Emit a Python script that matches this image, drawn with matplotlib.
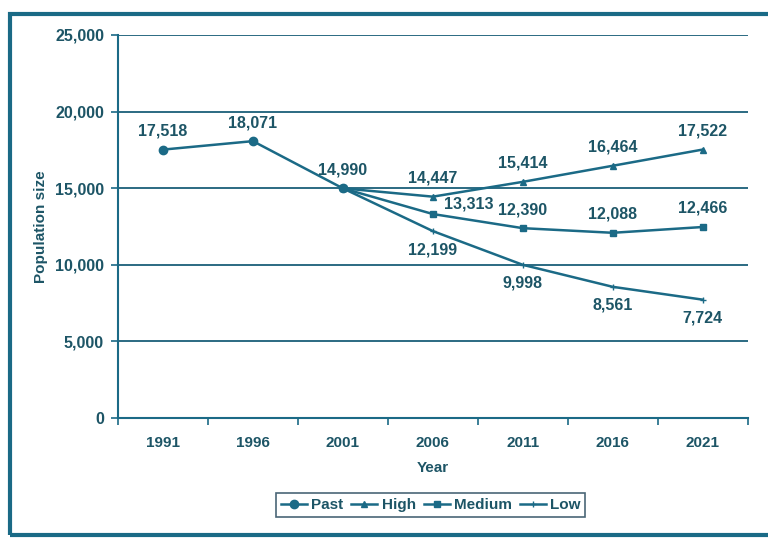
import matplotlib.pyplot as plt
from matplotlib.patches import Rectangle
from matplotlib.ticker import FuncFormatter

plt.rcParams['font.family'] = ['Liberation Sans', 'DejaVu Sans']
plt.rcParams['font.weight'] = 'bold'

years = ['1991', '1996', '2001', '2006', '2011', '2016', '2021']
past = [17518, 18071, 14990]
high = [14990, 14447, 15414, 16464, 17522]
medium = [14990, 13313, 12390, 12088, 12466]
low = [14990, 12199, 9998, 8561, 7724]

line_color = '#1b6a86'
text_color = '#1d5566'

fig = plt.figure(figsize=(7.68, 5.39), dpi=100)
ax = fig.add_axes([0.1536, 0.2245, 0.820, 0.7106])

x_past = list(range(len(past)))
x_proj = list(range(2, 2 + len(high)))

ax.plot(x_past, past, color=line_color, lw=1.8, marker='o', ms=6, label='Past')
ax.plot(x_proj, high, color=line_color, lw=1.8, marker='^', ms=4, label='High')
ax.plot(x_proj, medium, color=line_color, lw=1.8, marker='s', ms=4, label='Medium')
ax.plot(x_proj, low, color=line_color, lw=1.8, marker='+', ms=5, label='Low')

lbl = dict(ha='center', fontsize=11.5, fontweight='bold', color=text_color)
for i, v in enumerate(past):
    ax.annotate(f'{v:,}', (x_past[i], v), xytext=(0, 8), textcoords='offset points', va='bottom', **lbl)
for i, v in zip(x_proj[1:], high[1:]):
    ax.annotate(f'{v:,}', (i, v), xytext=(0, 8), textcoords='offset points', va='bottom', **lbl)
ax.annotate(f'{medium[1]:,}', (x_proj[1], medium[1]), xytext=(26, 2), textcoords='offset points', va='bottom', **lbl)
for i, v in zip(x_proj[2:], medium[2:]):
    ax.annotate(f'{v:,}', (i, v), xytext=(0, 8), textcoords='offset points', va='bottom', **lbl)
for i, v in zip(x_proj[1:], low[1:]):
    ax.annotate(f'{v:,}', (i, v), xytext=(0, -8), textcoords='offset points', va='top', **lbl)

ax.set_xlim(-0.5, len(years) - 0.5)
ax.set_ylim(0, 25000)
ax.set_yticks(range(0, 25001, 5000))
ax.yaxis.set_major_formatter(FuncFormatter(lambda v, p: f'{int(v):,}'))
ax.set_xticks(range(len(years)))
ax.set_xticklabels(years)
ax.set_xticks([i - 0.5 for i in range(len(years) + 1)], minor=True)
ax.tick_params(axis='x', which='major', length=0, pad=13, labelsize=11)
ax.tick_params(axis='x', which='minor', length=5, width=1.2, color=line_color, direction='out')
ax.tick_params(axis='y', length=5, width=1.2, color=line_color, pad=5, labelsize=11.5)
ax.tick_params(labelcolor=text_color)
for t in ax.get_xticklabels() + ax.get_yticklabels():
    t.set_fontweight('bold')

ax.grid(axis='y', color='#1a5f78', lw=1.3)
ax.set_axisbelow(True)
for s in ['top', 'right']:
    ax.spines[s].set_visible(False)
for s in ['left', 'bottom']:
    ax.spines[s].set_color(line_color)
    ax.spines[s].set_linewidth(1.5)

ax.set_xlabel('Year', fontsize=11, fontweight='bold', color=text_color, labelpad=8)
ax.set_ylabel('Population size', fontsize=11, fontweight='bold', color=text_color, labelpad=5)

leg = fig.legend(loc='center', bbox_to_anchor=(0.561, 0.063), ncol=4, frameon=True, fancybox=False,
                 handlelength=1.7, handletextpad=0.3, columnspacing=0.5, borderpad=0.3,
                 prop={'size': 11, 'weight': 'bold'})
leg.get_frame().set_edgecolor('#1d3f55')
leg.get_frame().set_linewidth(1.2)
for t in leg.get_texts():
    t.set_color(text_color)

# outer frame of the chart
fig.patches.append(Rectangle((0.013, 0.007), 0.99, 0.967, transform=fig.transFigure,
                             fill=False, edgecolor='#1a6a86', lw=3))

fig.savefig('out.png', dpi=100)
